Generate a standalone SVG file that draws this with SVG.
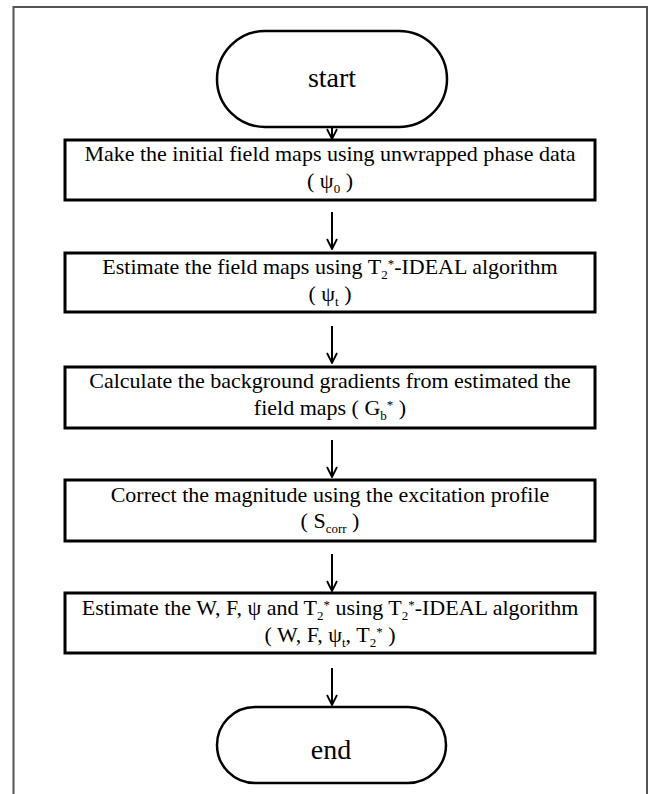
<svg xmlns="http://www.w3.org/2000/svg" width="652" height="794" viewBox="0 0 652 794">
<defs>
<style>
.frame{fill:none;stroke:#555;stroke-width:2}
.box{fill:#fff;stroke:#000;stroke-width:3}
.term{fill:#fff;stroke:#000;stroke-width:2.5}
.t{font-family:"Liberation Serif","Times New Roman",serif;font-size:22px;fill:#000;text-anchor:middle}
.tt{font-family:"Liberation Serif","Times New Roman",serif;font-size:28px;fill:#000;text-anchor:middle}
.s{font-size:13px}
.c{fill:none;stroke:#000;stroke-width:2}
</style>
<marker id="ah" viewBox="0 0 12 12" refX="11" refY="6" markerWidth="12" markerHeight="12" markerUnits="userSpaceOnUse" orient="auto">
<path d="M1,1 L11,6 L1,11" fill="none" stroke="#000" stroke-width="1.8"/>
</marker>
</defs>
<rect width="652" height="794" fill="#fff"/>
<path class="frame" d="M13.5,800 L13.5,7 L647,7 L647,800"/>
<g id="connectors">
<line class="c" x1="332" y1="127" x2="332" y2="139" marker-end="url(#ah)"/>
<line class="c" x1="332" y1="212" x2="332" y2="249" marker-end="url(#ah)"/>
<line class="c" x1="332" y1="326" x2="332" y2="363" marker-end="url(#ah)"/>
<line class="c" x1="332" y1="440" x2="332" y2="477" marker-end="url(#ah)"/>
<line class="c" x1="332" y1="554" x2="332" y2="591" marker-end="url(#ah)"/>
<line class="c" x1="332" y1="668" x2="332" y2="705" marker-end="url(#ah)"/>
</g>
<g id="start">
<rect class="term" x="217" y="31" width="230" height="96" rx="48" ry="48"/>
<text class="tt" x="332" y="87">start</text>
</g>
<g id="step1">
<rect class="box" x="65" y="140" width="530" height="60"/>
<text class="t" x="330" y="161">Make the initial field maps using unwrapped phase data</text>
<text class="t" x="330" y="188">( ψ<tspan class="s" baseline-shift="-5">0</tspan> )</text>
</g>
<g id="step2">
<rect class="box" x="65" y="253" width="530" height="59"/>
<text class="t" x="330" y="274">Estimate the field maps using T<tspan class="s" baseline-shift="-5">2</tspan><tspan class="s" baseline-shift="6">*</tspan>-IDEAL algorithm</text>
<text class="t" x="330" y="301">( ψ<tspan class="s" baseline-shift="-5">t</tspan> )</text>
</g>
<g id="step3">
<rect class="box" x="65" y="367" width="530" height="61"/>
<text class="t" x="330" y="388">Calculate the background gradients from estimated the</text>
<text class="t" x="330" y="415">field maps ( G<tspan class="s" baseline-shift="-5">b</tspan><tspan class="s" baseline-shift="6">*</tspan> )</text>
</g>
<g id="step4">
<rect class="box" x="65" y="480" width="530" height="61"/>
<text class="t" x="330" y="502">Correct the magnitude using the excitation profile</text>
<text class="t" x="330" y="528">( S<tspan class="s" baseline-shift="-5">corr</tspan> )</text>
</g>
<g id="step5">
<rect class="box" x="65" y="593" width="530" height="60"/>
<text class="t" x="330" y="615">Estimate the W, F, ψ and T<tspan class="s" baseline-shift="-5">2</tspan><tspan class="s" baseline-shift="6">*</tspan> using T<tspan class="s" baseline-shift="-5">2</tspan><tspan class="s" baseline-shift="6">*</tspan>-IDEAL algorithm</text>
<text class="t" x="330" y="642">( W, F, ψ<tspan class="s" baseline-shift="-5">t</tspan>, T<tspan class="s" baseline-shift="-5">2</tspan><tspan class="s" baseline-shift="6">*</tspan> )</text>
</g>
<g id="end">
<rect class="term" x="217" y="707" width="229" height="76" rx="38" ry="38"/>
<text class="tt" x="331" y="759">end</text>
</g>
</svg>
